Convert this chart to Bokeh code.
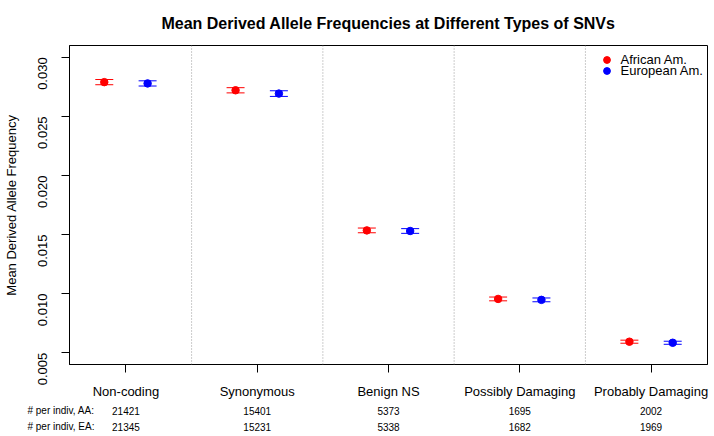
import math
from bokeh.plotting import figure
from bokeh.layouts import column
from bokeh.models import (ColumnDataSource, Range1d, FixedTicker, Whisker, TeeHead, Span,
                          Legend, LegendItem, NumeralTickFormatter)
from bokeh.embed import file_html
from bokeh.resources import INLINE
from bokeh.core.properties import value

# ---- data ----
categories = ["Non-coding", "Synonymous", "Benign NS", "Possibly Damaging", "Probably Damaging"]
aa_mean = [0.02790, 0.02721, 0.01535, 0.00955, 0.00593]
ea_mean = [0.02779, 0.02693, 0.01530, 0.00947, 0.00584]
aa_err = [0.00022, 0.00022, 0.00020, 0.00016, 0.00013]
ea_err = [0.00022, 0.00024, 0.00020, 0.00016, 0.00013]
n_aa = [21421, 15401, 5373, 1695, 2002]
n_ea = [21345, 15231, 5338, 1682, 1969]
row_titles = ["# per indiv, AA:", "# per indiv, EA:"]
y_ticks = [0.005, 0.010, 0.015, 0.020, 0.025, 0.030]
series_names = ["African Am.", "European Am."]
series_colors = ["#FF0000", "#0000FF"]

FONT = "Liberation Sans"
W = 714
H_MAIN, H_TAB = 401, 35
BL, BR, BT, BB = 67, 7, 45, 34
idx = list(range(1, len(categories) + 1))
off = 0.165

p = figure(width=W, height=H_MAIN, output_backend="svg", toolbar_location=None,
           x_range=Range1d(0.57, 5.43), y_range=Range1d(0.004, 0.031),
           min_border_left=BL, min_border_right=BR, min_border_top=BT, min_border_bottom=BB,
           title="Mean Derived Allele Frequencies at Different Types of SNVs")
p.title.text_font = FONT
p.title.text_font_size = "16px"
p.title.text_font_style = "bold"
p.title.align = "center"
p.title.vertical_align = "top"
p.title.text_color = "black"
p.title.standoff = 23

p.xgrid.visible = False
p.ygrid.visible = False
p.outline_line_color = "black"
p.outline_line_alpha = 1
p.outline_line_width = 1
p.background_fill_color = "white"
p.border_fill_color = "white"

# x axis
xa = p.xaxis[0]
xa.ticker = FixedTicker(ticks=idx)
xa.major_label_overrides = {i: c for i, c in zip(idx, categories)}
xa.major_label_text_font = FONT
xa.major_label_text_font_size = "13px"
xa.major_label_text_color = "black"
xa.major_tick_out = 8
xa.major_tick_in = 0
xa.minor_tick_line_color = None
xa.axis_line_color = "black"
xa.major_tick_line_color = "black"
xa.major_label_standoff = 11

# y axis
ya = p.yaxis[0]
ya.ticker = FixedTicker(ticks=y_ticks)
ya.formatter = NumeralTickFormatter(format="0.000")
ya.major_label_orientation = math.pi / 2
ya.major_label_text_font = FONT
ya.major_label_text_font_size = "13px"
ya.major_label_text_color = "black"
ya.major_tick_out = 8
ya.major_tick_in = 0
ya.minor_tick_line_color = None
ya.axis_line_color = "black"
ya.major_tick_line_color = "black"
ya.major_label_standoff = 19
ya.axis_label = "Mean Derived Allele Frequency"
ya.axis_label_text_font = FONT
ya.axis_label_text_font_size = "13px"
ya.axis_label_text_font_style = "normal"
ya.axis_label_text_color = "black"
ya.axis_label_standoff = 12

# dividers between categories
for i in idx[:-1]:
    p.add_layout(Span(location=i + 0.5, dimension="height", line_color="#999999",
                      line_dash="1 2", line_width=1))

renderers = []
for k, (means, errs) in enumerate([(aa_mean, aa_err), (ea_mean, ea_err)]):
    xs = [i + (-off if k == 0 else off) for i in idx]
    src = ColumnDataSource(dict(x=xs, y=means,
                                lower=[m - e for m, e in zip(means, errs)],
                                upper=[m + e for m, e in zip(means, errs)]))
    col = series_colors[k]
    p.add_layout(Whisker(source=src, base="x", lower="lower", upper="upper",
                         line_color=col, line_width=1,
                         lower_head=TeeHead(size=18, line_color=col, line_width=1),
                         upper_head=TeeHead(size=18, line_color=col, line_width=1)))
    r = p.scatter("x", "y", source=src, size=7.5, fill_color=col, line_color=col)
    renderers.append(r)

# legends (one per item for tight spacing)
for k, (name, r) in enumerate(zip(series_names, renderers)):
    lg = Legend(items=[LegendItem(label=name, renderers=[r])],
                location=(528.5, 296.2 - k * 11.3),
                border_line_alpha=0, background_fill_alpha=0,
                padding=0, margin=0, spacing=0,
                glyph_width=17, glyph_height=17, label_height=11,
                label_standoff=6,
                label_text_font=FONT, label_text_font_size="13px",
                label_text_color="black")
    p.add_layout(lg)

# ---- count table below the chart, sharing the chart's horizontal scale ----
row_y = [26, 10]
t = figure(width=W, height=H_TAB, output_backend="svg", toolbar_location=None,
           x_range=p.x_range, y_range=Range1d(0, H_TAB),
           min_border_left=BL, min_border_right=BR, min_border_top=0, min_border_bottom=0,
           x_axis_location=None, y_axis_location="left")
t.outline_line_color = None
t.xgrid.visible = False
t.ygrid.visible = False
t.background_fill_color = "white"
t.border_fill_color = "white"
ta = t.yaxis[0]
ta.ticker = FixedTicker(ticks=row_y)
ta.major_label_overrides = {yy: s for yy, s in zip(row_y, row_titles)}
ta.axis_line_color = None
ta.major_tick_line_color = None
ta.minor_tick_line_color = None
ta.major_tick_out = 0
ta.major_tick_in = 0
ta.major_label_standoff = -25
ta.major_label_text_font = FONT
ta.major_label_text_font_size = "10px"
ta.major_label_text_color = "black"

for counts, yy in zip([n_aa, n_ea], row_y):
    t.text(x=idx, y=[yy] * len(idx), text=[str(v) for v in counts],
           text_align="center", text_baseline="middle",
           text_font=value(FONT), text_font_size="10px", text_color="black")

layout = column(p, t, spacing=0)
open("out.html", "w").write(file_html(layout, INLINE))
